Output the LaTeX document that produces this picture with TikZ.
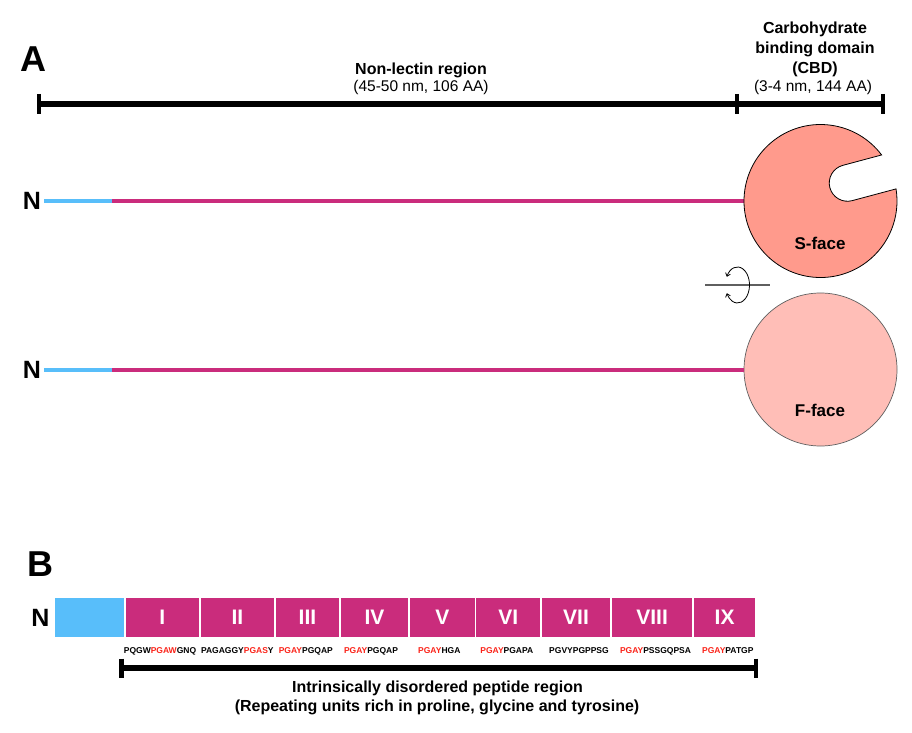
\documentclass[tikz,border=0pt]{standalone}
\usepackage{fontspec}
\setmainfont{Liberation Sans}
\usetikzlibrary{arrows.meta,calc}
\definecolor{blueC}{RGB}{88,190,250}
\definecolor{magC}{RGB}{202,44,124}
\definecolor{sface}{RGB}{255,154,140}
\definecolor{fface}{RGB}{255,190,183}
\definecolor{seqred}{RGB}{250,35,25}
\definecolor{rotgray}{RGB}{95,95,95}
\newcommand{\rd}[1]{\textcolor{seqred}{#1}}
\begin{document}
\begin{tikzpicture}[x=1pt,y=1pt,
  lbl/.style={font=\bfseries\fontsize{16}{19}\selectfont, inner sep=0pt, anchor=base},
  sub/.style={font=\fontsize{15.5}{19}\selectfont, inner sep=0pt, anchor=base},
  big/.style={font=\bfseries\fontsize{36}{40}\selectfont, inner sep=0pt, anchor=base},
  nlab/.style={font=\bfseries\fontsize{25}{28}\selectfont, inner sep=0pt},
  facelbl/.style={font=\bfseries\fontsize{17}{20}\selectfont, inner sep=0pt},
  barline/.style={line width=5.5pt},
  tickline/.style={line width=4.5pt},
  seq/.style={font=\bfseries\fontsize{8.5}{10}\selectfont, inner sep=0pt, anchor=base},
  unitbox/.style={draw=white, line width=1.6pt, minimum height=41pt, inner sep=0pt, outer sep=0pt,
     font=\bfseries\fontsize{21}{24}\selectfont, text=white},
  blueline/.style={draw=blueC, line width=4pt},
  magline/.style={draw=magC, line width=4pt},
]
\useasboundingbox (0,0) rectangle (912,732);

% ---------- Panel A ----------
\node[big] (labA) at (33,660) {A};

\node[lbl] (nl) at (421,657) {Non-lectin region};
\node[sub] (nlsub) at (421,640.5) {(45-50 nm, 106 AA)};

\node[lbl] (cbd1) at (815,698) {Carbohydrate};
\node[lbl] (cbd2) at (815,678) {binding domain};
\node[lbl] (cbd3) at (815,658) {(CBD)};
\node[sub] (cbdsub) at (813,640.5) {(3-4 nm, 144 AA)};

\coordinate (t1) at (39,628);
\coordinate (t2) at (737,628);
\coordinate (t3) at (883,628);
\draw[barline] (t1) -- (t3);
\foreach \c in {t1,t2,t3}
  \draw[tickline] ([yshift=10pt]\c) -- ([yshift=-10pt]\c);

% row 1 (S-face)
\node[nlab] (n1) at (32,531) {N};
\coordinate (a1) at (44,531);
\coordinate (m1) at (112,531);
\coordinate (s1w) at (744.5,531);
\draw[blueline] (a1) -- (m1);
\draw[magline] (m1) -- (s1w);
\filldraw[fill=sface, draw=black, line width=0.8pt]
  (881.6,577.03) arc[start angle=37.0, end angle=369.11, radius=76.5]
  -- (852.22,531.37) arc[start angle=-75, end angle=-255, radius=18.25]
  -- cycle;
\node[facelbl] (sl) at (820,489) {S-face};

% rotation symbol
\coordinate (rl) at (705,447);
\coordinate (rr) at (770,447);
\coordinate (rc) at (737.5,447);
\draw[rotgray, line width=1.1pt] (rl) -- (rr);
\draw[black, line width=0.8pt, {Straight Barb[length=3pt,width=5pt]}-{Straight Barb[length=3pt,width=5pt]}]
  ($(rc)+(153:12 and 18)$) arc[start angle=153, end angle=-153, x radius=12, y radius=18];

% row 2 (F-face)
\node[nlab] (n2) at (32,362.5) {N};
\node[circle, draw=rotgray, line width=0.7pt, fill=fface, minimum size=153pt, inner sep=0pt] (fc) at (820.5,362.5) {};
\coordinate (a2) at (44,362.5);
\coordinate (m2) at (112,362.5);
\draw[blueline] (a2) -- (m2);
\draw[magline] (m2) -- (fc.west);
\node[facelbl] (fl) at (820,322) {F-face};

% ---------- Panel B ----------
\node[big] (labB) at (40.5,156) {B};
\node[nlab] (n3) at (40.5,114.5) {N};

\node[unitbox, fill=blueC, minimum width=70.7pt] (u0) at ({(54+124.7)/2},114.5) {};
\foreach \a/\b/\t/\i in {124.7/199.7/I/1, 199.7/275/II/2, 275/339.9/III/3, 339.9/409/IV/4,
    409/475.5/V/5, 475.5/541/VI/6, 541/611/VII/7, 611/693.2/VIII/8, 693.2/756/IX/9}
  \node[unitbox, fill=magC, minimum width={\b-\a}] (u\i) at ({(\a+\b)/2},114.5) {\t};

\node[seq] (q1) at (160,78.7) {PQGW\rd{PGAW}GNQ};
\node[seq] (q2) at (237.3,78.7) {PAGAGGY\rd{PGAS}Y};
\node[seq] (q3) at (305.8,78.7) {\rd{PGAY}PGQAP};
\node[seq] (q4) at (371,78.7) {\rd{PGAY}PGQAP};
\node[seq] (q5) at (439.3,78.7) {\rd{PGAY}HGA};
\node[seq] (q6) at (506.8,78.7) {\rd{PGAY}PGAPA};
\node[seq] (q7) at (579,78.7) {PGVYPGPPSG};
\node[seq] (q8) at (655.5,78.7) {\rd{PGAY}PSSGQPSA};
\node[seq] (q9) at (727.8,78.7) {\rd{PGAY}PATGP};

\coordinate (b1) at (121.7,64);
\coordinate (b2) at (756,64);
\draw[barline] (b1) -- (b2);
\foreach \c in {b1,b2}
  \draw[tickline] ([yshift=9.5pt]\c) -- ([yshift=-9.5pt]\c);

\node[lbl] (idr1) at (437.5,39.5) {Intrinsically disordered peptide region};
\node[lbl] (idr2) at (437,21) {(Repeating units rich in proline, glycine and tyrosine)};
\end{tikzpicture}
\end{document}
